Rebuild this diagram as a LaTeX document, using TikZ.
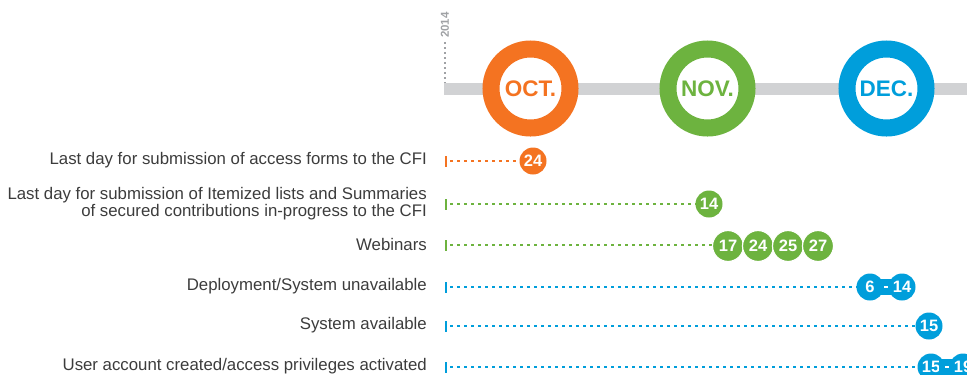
\documentclass[tikz,border=0pt]{standalone}
\usepackage{fontspec}
\setmainfont{Liberation Sans}
\usetikzlibrary{calc}
\definecolor{cfiorange}{HTML}{F47321}
\definecolor{cfigreen}{HTML}{6DB33F}
\definecolor{cfiblue}{HTML}{009EDB}
\definecolor{bargray}{HTML}{D1D2D4}
\definecolor{yeargray}{HTML}{A0A2A5}
\definecolor{labelgray}{HTML}{3C3C3C}
\begin{document}
\begin{tikzpicture}[x=1pt,y=-1pt,
  month/.style={circle, draw=#1, line width=17pt, fill=white, minimum size=79pt, inner sep=0pt,
    text=#1, font=\bfseries\fontsize{22.5}{22}\selectfont},
  bub/.style={circle, fill=#1, minimum size=27pt, inner sep=0pt, text=white,
    font=\bfseries\fontsize{16.5}{16}\selectfont},
  wbub/.style={circle, fill=cfigreen, draw=white, line width=1.2pt, minimum size=31pt, inner sep=0pt,
    text=white, font=\bfseries\fontsize{16.5}{16}\selectfont},
  lbl/.style={anchor=east, align=right, inner sep=0pt, text=labelgray,
    font=\fontsize{16.8}{17}\selectfont},
  dotl/.style={line width=1.3pt, dash pattern=on 2.5pt off 4.5pt},
  tickmark/.style={line width=1.8pt},
  yearlbl/.style={text=yeargray, inner sep=0pt, font=\bfseries\fontsize{11.5}{11}\selectfont}
]
\useasboundingbox (0,0) rectangle (967,375);
% timeline bar
\fill[bargray] (444,83) rectangle (967,95);
% year
\node[yearlbl, rotate=90] (year) at (445,25) {2014};
\coordinate (yb) at (445,83);
\draw[yeargray, line width=1.2pt, dash pattern=on 2pt off 3pt] ([yshift=-4pt]year.west) -- (yb);
% months
\node[month=cfiorange] (oct) at (530.5,88.5) {OCT.};
\node[month=cfigreen] (nov) at (707.5,88.5) {NOV.};
\node[month=cfiblue] (dec) at (886.5,88.5) {DEC.};

% row 1
\node[lbl] (l1) at (427,160) {Last day for submission of access forms to the CFI};
\coordinate (s1) at (446,161);
\draw[tickmark, cfiorange] ([yshift=-5.5pt]s1) -- ([yshift=5.5pt]s1);
\node[bub=cfiorange] (b1) at (533,161) {24};
\draw[dotl, cfiorange] ([xshift=4pt]s1) -- (b1);

% row 2
\node[lbl] (l2) at (427,203.5) {Last day for submission of Itemized lists and Summaries\\of secured contributions in-progress to the CFI};
\coordinate (s2) at (446,204);
\draw[tickmark, cfigreen] ([yshift=-5.5pt]s2) -- ([yshift=5.5pt]s2);
\node[bub=cfigreen] (b2) at (709,204) {14};
\draw[dotl, cfigreen] ([xshift=4pt]s2) -- (b2);

% row 3
\node[lbl] (l3) at (427,244) {Webinars};
\coordinate (s3) at (446,245);
\draw[tickmark, cfigreen] ([yshift=-5.5pt]s3) -- ([yshift=5.5pt]s3);
\draw[dotl, cfigreen] ([xshift=4pt]s3) -- (713,245) coordinate (e3);
\node[wbub] (b3a) at (728,246) {17};
\node[wbub] (b3b) at (758,246) {24};
\node[wbub] (b3c) at (788,246) {25};
\node[wbub] (b3d) at (818,246) {27};

% row 4
\node[lbl] (l4) at (427,286) {Deployment/System unavailable};
\coordinate (s4) at (446,287);
\draw[tickmark, cfiblue] ([yshift=-5.5pt]s4) -- ([yshift=5.5pt]s4);
\node[bub=cfiblue] (b4a) at (870,287) {6};
\node[bub=cfiblue] (b4b) at (902,287) {14};
\draw[dotl, cfiblue] ([xshift=4pt]s4) -- (b4a);
\fill[cfiblue] ([xshift=-6pt,yshift=-8pt]b4a.east) rectangle ([xshift=4pt,yshift=8pt]b4b.west);
\fill[white] ([xshift=-2pt,yshift=-1.2pt]$(b4a.east)!0.5!(b4b.west)$) rectangle ([xshift=2pt,yshift=1.2pt]$(b4a.east)!0.5!(b4b.west)$);

% row 5
\node[lbl] (l5) at (427,325) {System available};
\coordinate (s5) at (446,326);
\draw[tickmark, cfiblue] ([yshift=-5.5pt]s5) -- ([yshift=5.5pt]s5);
\node[bub=cfiblue] (b5) at (929,326) {15};
\draw[dotl, cfiblue] ([xshift=4pt]s5) -- (b5);

% row 6
\node[lbl] (l6) at (427,366) {User account created/access privileges activated};
\coordinate (s6) at (446,367);
\draw[tickmark, cfiblue] ([yshift=-5.5pt]s6) -- ([yshift=5.5pt]s6);
\node[bub=cfiblue] (b6a) at (931,367) {15};
\node[bub=cfiblue] (b6b) at (963,367) {19};
\draw[dotl, cfiblue] ([xshift=4pt]s6) -- (b6a);
\fill[cfiblue] ([xshift=-6pt,yshift=-8pt]b6a.east) rectangle ([xshift=4pt,yshift=8pt]b6b.west);
\fill[white] ([xshift=-2pt,yshift=-1.2pt]$(b6a.east)!0.5!(b6b.west)$) rectangle ([xshift=2pt,yshift=1.2pt]$(b6a.east)!0.5!(b6b.west)$);
\end{tikzpicture}
\end{document}
